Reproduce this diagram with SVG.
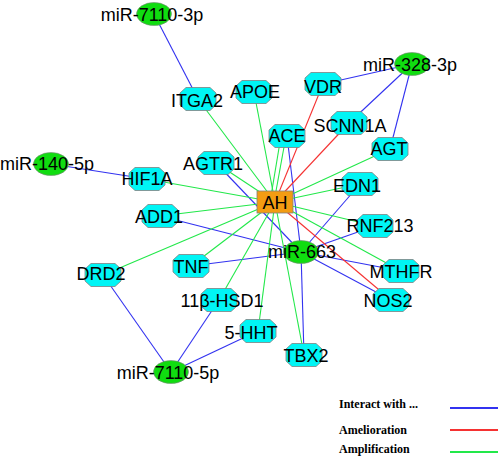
<svg xmlns="http://www.w3.org/2000/svg" xmlns:xlink="http://www.w3.org/1999/xlink" width="498" height="459" viewBox="0 0 498 459">
<style>
.b{stroke:#3232f0;stroke-width:1.1;fill:none}
.r{stroke:#f53232;stroke-width:1.1;fill:none}
.g{stroke:#22e84a;stroke-width:1.1;fill:none}
.oct{fill:#00f5f5;stroke:#808080;stroke-width:0.8}
.mir{fill:#10dd10;stroke:#808080;stroke-width:0.6}
.lbl{font-family:"Liberation Sans",Arial,sans-serif;font-size:18px;fill:#000;text-anchor:middle}
.leg{font-family:"Liberation Serif","Times New Roman",serif;font-size:12px;font-weight:bold;fill:#000}
</style>
<defs>
<polygon id="oct" points="-12,-11.5 12,-11.5 18,-6 18,6 12,11.5 -12,11.5 -18,6 -18,-6"/>
</defs>
<g id="connectors">
<line class="b" x1="154" y1="14" x2="198" y2="99"/>
<line class="b" x1="51" y1="164" x2="147" y2="179"/>
<line class="b" x1="412" y1="64" x2="323" y2="84"/>
<line class="b" x1="412" y1="64" x2="349" y2="123"/>
<line class="b" x1="412" y1="64" x2="390" y2="149"/>
<line class="b" x1="301" y1="252" x2="216" y2="163"/>
<line class="b" x1="301" y1="252" x2="160" y2="216"/>
<line class="b" x1="301" y1="252" x2="191" y2="266"/>
<line class="b" x1="301" y1="252" x2="287" y2="136"/>
<line class="b" x1="301" y1="252" x2="304" y2="355"/>
<line class="b" x1="301" y1="252" x2="360" y2="184"/>
<line class="b" x1="301" y1="252" x2="375" y2="226"/>
<line class="b" x1="301" y1="252" x2="401" y2="271"/>
<line class="b" x1="301" y1="252" x2="391" y2="300"/>
<line class="b" x1="171" y1="372" x2="103" y2="275"/>
<line class="b" x1="171" y1="372" x2="219" y2="300"/>
<line class="b" x1="171" y1="372" x2="258" y2="331"/>
<line class="r" x1="275" y1="202" x2="323" y2="84"/>
<line class="r" x1="275" y1="202" x2="349" y2="123"/>
<line class="r" x1="275" y1="202" x2="391" y2="300"/>
<line class="g" x1="275" y1="202" x2="198" y2="99"/>
<line class="g" x1="275" y1="202" x2="254" y2="92"/>
<line class="g" x1="270" y1="202" x2="281" y2="136"/>
<line class="g" x1="274" y1="202" x2="286" y2="136"/>
<line class="g" x1="275" y1="202" x2="390" y2="149"/>
<line class="g" x1="275" y1="202" x2="216" y2="163"/>
<line class="g" x1="275" y1="202" x2="147" y2="179"/>
<line class="g" x1="275" y1="202" x2="160" y2="216"/>
<line class="g" x1="275" y1="202" x2="103" y2="275"/>
<line class="g" x1="275" y1="202" x2="191" y2="266"/>
<line class="g" x1="275" y1="202" x2="219" y2="300"/>
<line class="g" x1="275" y1="202" x2="258" y2="331"/>
<line class="g" x1="275" y1="202" x2="304" y2="355"/>
<line class="g" x1="275" y1="202" x2="360" y2="184"/>
<line class="g" x1="275" y1="202" x2="375" y2="226"/>
<line class="g" x1="275" y1="202" x2="401" y2="271"/>
</g>
<g id="n-ITGA2"><use xlink:href="#oct" class="oct" x="198" y="99"/><text class="lbl" x="197" y="107">ITGA2</text></g>
<g id="n-APOE"><use xlink:href="#oct" class="oct" x="254" y="92"/><text class="lbl" x="255" y="98">APOE</text></g>
<g id="n-VDR"><use xlink:href="#oct" class="oct" x="323" y="84"/><text class="lbl" x="323" y="93">VDR</text></g>
<g id="n-SCNN1A"><use xlink:href="#oct" class="oct" x="349" y="123"/><text class="lbl" x="350" y="132">SCNN1A</text></g>
<g id="n-ACE"><use xlink:href="#oct" class="oct" x="287" y="136"/><text class="lbl" x="287" y="142">ACE</text></g>
<g id="n-AGT"><use xlink:href="#oct" class="oct" x="390" y="149"/><text class="lbl" x="389" y="155">AGT</text></g>
<g id="n-AGTR1"><use xlink:href="#oct" class="oct" x="216" y="163"/><text class="lbl" x="213" y="170">AGTR1</text></g>
<g id="n-HIF1A"><use xlink:href="#oct" class="oct" x="147" y="179"/><text class="lbl" x="147" y="185">HIF1A</text></g>
<g id="n-ADD1"><use xlink:href="#oct" class="oct" x="160" y="216"/><text class="lbl" x="159" y="223">ADD1</text></g>
<g id="n-EDN1"><use xlink:href="#oct" class="oct" x="360" y="184"/><text class="lbl" x="357" y="192">EDN1</text></g>
<g id="n-RNF213"><use xlink:href="#oct" class="oct" x="375" y="226"/><text class="lbl" x="380" y="232">RNF213</text></g>
<g id="n-MTHFR"><use xlink:href="#oct" class="oct" x="401" y="271"/><text class="lbl" x="401" y="278">MTHFR</text></g>
<g id="n-NOS2"><use xlink:href="#oct" class="oct" x="391" y="300"/><text class="lbl" x="388" y="307">NOS2</text></g>
<g id="n-TNF"><use xlink:href="#oct" class="oct" x="191" y="266"/><text class="lbl" x="191" y="273">TNF</text></g>
<g id="n-DRD2"><use xlink:href="#oct" class="oct" x="103" y="275"/><text class="lbl" x="101" y="280">DRD2</text></g>
<g id="n-11bHSD1"><use xlink:href="#oct" class="oct" x="219" y="300"/><text class="lbl" x="222" y="307">11β-HSD1</text></g>
<g id="n-5HHT"><use xlink:href="#oct" class="oct" x="258" y="331"/><text class="lbl" x="251" y="339">5-HHT</text></g>
<g id="n-TBX2"><use xlink:href="#oct" class="oct" x="304" y="355"/><text class="lbl" x="306" y="362">TBX2</text></g>
<g id="n-AH"><rect x="257" y="191" width="36" height="22" fill="#f39c12" stroke="#808080" stroke-width="0.8"/><text class="lbl" x="275" y="209">AH</text></g>
<g id="n-miR-7110-3p"><ellipse class="mir" cx="154" cy="14" rx="17.5" ry="11.5"/><text class="lbl" x="152" y="21">miR-7110-3p</text></g>
<g id="n-miR-328-3p"><ellipse class="mir" cx="412" cy="64" rx="17.5" ry="11.5"/><text class="lbl" x="410" y="71">miR-328-3p</text></g>
<g id="n-miR-140-5p"><ellipse class="mir" cx="51" cy="164" rx="17.5" ry="11.5"/><text class="lbl" x="47" y="170">miR-140-5p</text></g>
<g id="n-miR-663"><ellipse class="mir" cx="301" cy="252" rx="17.5" ry="11.5"/><text class="lbl" x="302" y="258">miR-663</text></g>
<g id="n-miR-7110-5p"><ellipse class="mir" cx="171" cy="372" rx="17.5" ry="11.5"/><text class="lbl" x="168" y="379">miR-7110-5p</text></g>
<g id="legend">
<text class="leg" x="339" y="408">Interact with ...</text>
<text class="leg" x="339" y="434">Amelioration</text>
<text class="leg" x="339" y="453">Amplification</text>
<line x1="450" y1="408" x2="498" y2="408" stroke="#3232f0" stroke-width="2"/>
<line x1="450" y1="430" x2="498" y2="430" stroke="#f53232" stroke-width="2"/>
<line x1="450" y1="452" x2="498" y2="452" stroke="#22e84a" stroke-width="2"/>
</g>
</svg>
